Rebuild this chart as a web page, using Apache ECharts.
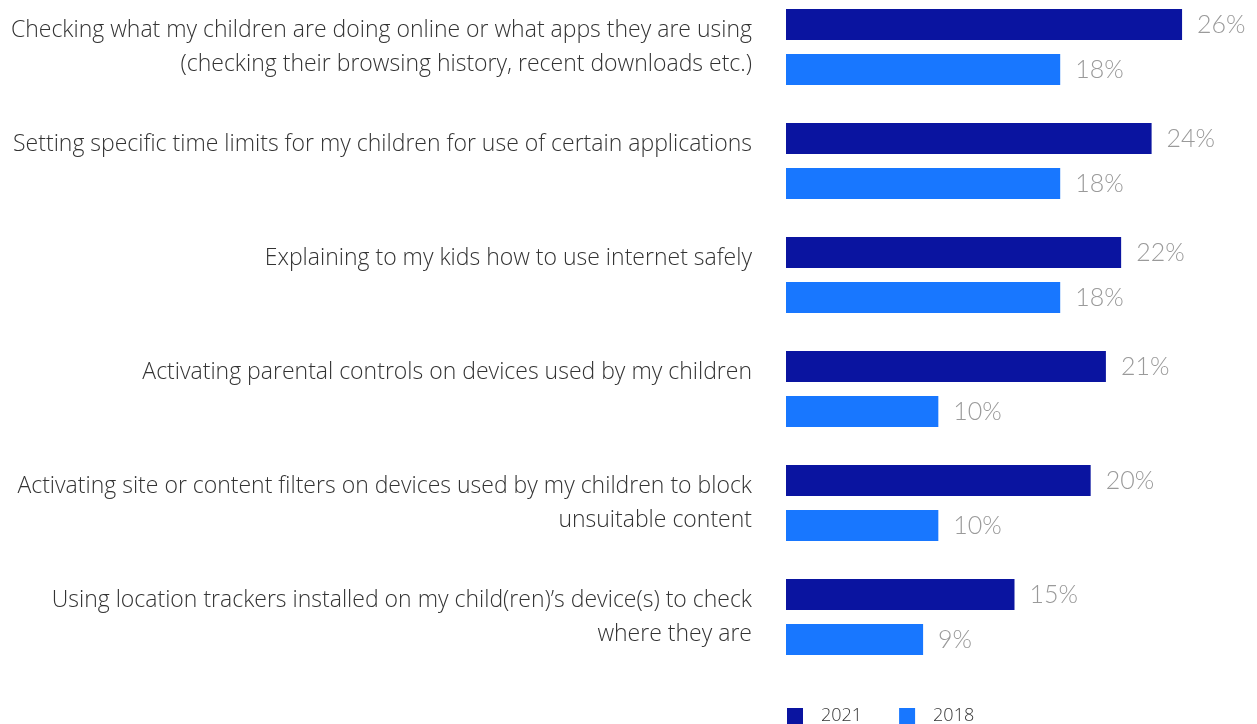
<!DOCTYPE html>
<html>
<head>
<meta charset="utf-8">
<script src="https://cdn.jsdelivr.net/npm/echarts@6/dist/echarts.min.js"></script>
<style>html,body{margin:0;padding:0;background:#fff;overflow:hidden;}#c{position:absolute;left:0;top:-10px;width:1257px;height:734px;}</style>
</head>
<body>
<div id="c"></div>
<script>
const categories = [
  "Checking what my children are doing online or what apps they are using\n(checking their browsing history, recent downloads etc.)",
  "Setting specific time limits for my children for use of certain applications",
  "Explaining to my kids how to use internet safely",
  "Activating parental controls on devices used by my children",
  "Activating site or content filters on devices used by my children to block\nunsuitable content",
  "Using location trackers installed on my child(ren)\u2019s device(s) to check\nwhere they are"
];
const values2021 = [26, 24, 22, 21, 20, 15];
const values2018 = [18, 18, 18, 10, 10, 9];
const seriesNames = ["2021", "2018"];

const chart = echarts.init(document.getElementById('c'));
const fontFam = '"Open Sans", Lato, sans-serif';
const labelCfg = {
  show: true, position: 'right', distance: 15,
  formatter: '{c}%', color: '#9a9a9a', fontSize: 25, fontWeight: 300, fontFamily: 'Lato, sans-serif'
};
chart.setOption({
  animation: false,
  grid: { left: 786, right: 14, top: 0, bottom: 50, containLabel: false },
  xAxis: { type: 'value', min: 0, max: 30, show: false },
  yAxis: {
    type: 'category', data: categories, inverse: true,
    axisLine: { show: false }, axisTick: { show: false },
    axisLabel: {
      margin: 34, color: '#333333', fontSize: 23, fontWeight: 300, fontFamily: fontFam,
      lineHeight: 34, align: 'right', padding: [0, 0, 5, 0],
      formatter: function (v) { return v.indexOf('\n') >= 0 ? v : v + '\n '; }
    }
  },
  legend: {
    left: 787, top: 717, padding: 0, itemWidth: 16, itemHeight: 16, itemGap: 37,
    icon: 'rect',
    textStyle: { fontSize: 18, color: '#333', fontFamily: fontFam, fontWeight: 300, padding: [0, 0, 0, 13] },
    data: seriesNames
  },
  series: [
    { name: seriesNames[0], type: 'bar', data: values2021, barWidth: 31, barGap: '45%',
      itemStyle: { color: '#0A14A0' }, label: labelCfg },
    { name: seriesNames[1], type: 'bar', data: values2018, barWidth: 31,
      itemStyle: { color: '#1877FF' }, label: labelCfg }
  ]
});
</script>
</body>
</html>
